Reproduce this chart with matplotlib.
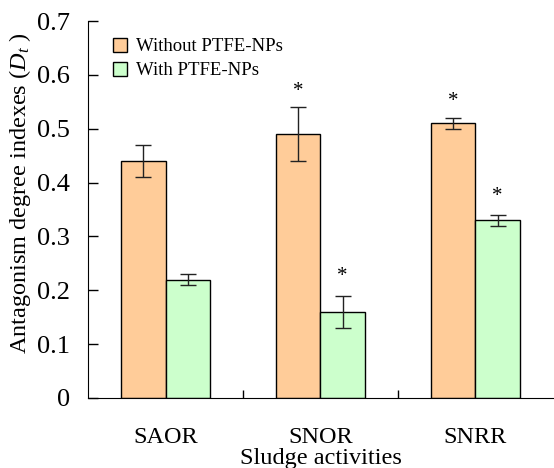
import numpy as np
import matplotlib.pyplot as plt

plt.rcParams['font.family'] = ['Liberation Serif', 'DejaVu Serif']
plt.rcParams['mathtext.fontset'] = 'custom'
plt.rcParams['mathtext.rm'] = 'Liberation Serif'
plt.rcParams['mathtext.it'] = 'Liberation Serif:italic'

categorias = ['SAOR', 'SNOR', 'SNRR']
sem_np = [0.44, 0.49, 0.51]
sem_np_err = [0.03, 0.05, 0.01]
com_np = [0.22, 0.16, 0.33]
com_np_err = [0.01, 0.03, 0.01]
sig_sem = [False, True, True]
sig_com = [False, True, True]

x = np.arange(len(categorias))
w = 0.285

fig = plt.figure(figsize=(5.54, 4.68), dpi=100)
ax = fig.add_axes([0.159, 0.1496, 0.839, 0.8055])

ax.bar(x - w/2, sem_np, w, color='#FFCC99', edgecolor='black', linewidth=1,
       label='Without PTFE-NPs')
ax.bar(x + w/2, com_np, w, color='#CCFFCC', edgecolor='black', linewidth=1,
       label='With PTFE-NPs')
ax.errorbar(x - w/2, sem_np, yerr=sem_np_err, fmt='none', ecolor='#222222',
            elinewidth=1, capsize=6, capthick=1)
ax.errorbar(x + w/2, com_np, yerr=com_np_err, fmt='none', ecolor='#222222',
            elinewidth=1, capsize=6, capthick=1)

# asteriscos de significancia
for i in range(len(categorias)):
    if sig_sem[i]:
        ax.text(x[i] - w/2, sem_np[i] + sem_np_err[i] + 0.03, '*',
                ha='center', va='center', fontsize=15)
    if sig_com[i]:
        ax.text(x[i] + w/2, com_np[i] + com_np_err[i] + 0.035, '*',
                ha='center', va='center', fontsize=15)

ax.set_xlim(-0.5, 2.5)
ax.set_ylim(0, 0.7)
ax.set_yticks(np.arange(0, 0.71, 0.1))
ax.set_yticklabels(['0', '0.1', '0.2', '0.3', '0.4', '0.5', '0.6', '0.7'])
ax.set_xticks(x)
ax.set_xticklabels(categorias)
ax.set_xticks([0.5, 1.5], minor=True)

ax.tick_params(axis='y', direction='in', length=7, width=1, pad=13, labelsize=19)
ax.tick_params(axis='x', which='major', length=0, pad=21, labelsize=17.5)
ax.tick_params(axis='x', which='minor', direction='in', length=6, width=1)

ax.spines['top'].set_visible(False)
ax.spines['right'].set_visible(False)

ax.set_xlabel('Sludge activities', fontsize=17.5, labelpad=0)
ax.set_ylabel(r'Antagonism degree indexes ($D_t$ )', fontsize=17.5, labelpad=3)
ax.yaxis.label.set_y(0.544)

ax.legend(loc='upper left', bbox_to_anchor=(0.025, 0.99), frameon=False,
          fontsize=13.5, handlelength=0.75, handleheight=0.75, handletextpad=0.5,
          labelspacing=0.35, borderaxespad=0.3)

fig.savefig('out.png', dpi=100)
